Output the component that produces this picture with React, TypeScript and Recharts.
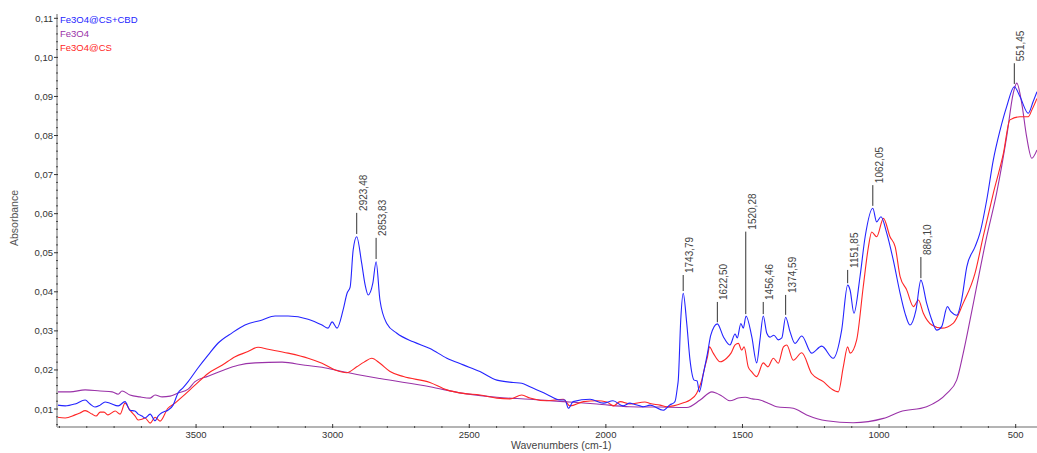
import { LineChart, Line, XAxis, YAxis, ReferenceLine } from "recharts";

const FONT = "'Liberation Sans', Arial, sans-serif";

// [wavenumber, absorbance]
const CBD: [number, number][] = [
  [4008, 0.011], [3979, 0.0108], [3943, 0.0113], [3906, 0.0123], [3888, 0.0113], [3870, 0.0105],
  [3851, 0.011], [3833, 0.0118], [3815, 0.0115], [3785, 0.0108], [3760, 0.0119], [3742, 0.0097],
  [3724, 0.0095], [3712, 0.0087], [3698, 0.0082], [3687, 0.0077], [3668, 0.0087], [3650, 0.007],
  [3639, 0.0082], [3632, 0.0087], [3621, 0.0092], [3603, 0.0097], [3584, 0.011], [3566, 0.0141],
  [3548, 0.0154], [3529, 0.017], [3493, 0.0205], [3456, 0.0238], [3419, 0.0269], [3368, 0.0295],
  [3321, 0.0315], [3258, 0.0328], [3211, 0.0338], [3163, 0.0338], [3090, 0.033], [3039, 0.0315],
  [3017, 0.0307], [3002, 0.0323], [2984, 0.0307], [2962, 0.0353], [2947, 0.0397], [2936, 0.0412],
  [2925, 0.0507], [2912, 0.0541], [2894, 0.0474], [2881, 0.0417], [2870, 0.0392], [2853, 0.0422],
  [2841, 0.0477], [2827, 0.0379], [2802, 0.0319], [2765, 0.0294], [2705, 0.0272], [2644, 0.0255],
  [2582, 0.023], [2522, 0.0213], [2461, 0.0196], [2399, 0.0174], [2339, 0.0168], [2308, 0.0166],
  [2278, 0.0157], [2217, 0.0138], [2168, 0.0123], [2150, 0.0123], [2137, 0.0102], [2120, 0.0119],
  [2058, 0.0125], [2009, 0.0115], [1974, 0.0121], [1937, 0.0108], [1912, 0.0115], [1899, 0.0113],
  [1875, 0.0108], [1863, 0.0106], [1838, 0.011], [1790, 0.0097], [1765, 0.0111], [1753, 0.0115],
  [1747, 0.0119], [1738, 0.0157], [1735, 0.0174], [1726, 0.0328], [1717, 0.0396], [1704, 0.0319],
  [1692, 0.0225], [1677, 0.0174], [1666, 0.0172], [1658, 0.0144], [1643, 0.0191], [1628, 0.0243],
  [1616, 0.0289], [1592, 0.0318], [1570, 0.0285], [1546, 0.0264], [1527, 0.0292], [1519, 0.0282],
  [1506, 0.0319], [1497, 0.0307], [1487, 0.0338], [1466, 0.0285], [1448, 0.0218], [1436, 0.0277],
  [1424, 0.0338], [1411, 0.0294], [1399, 0.0284], [1385, 0.0289], [1369, 0.0277], [1356, 0.0282],
  [1342, 0.0335], [1326, 0.0298], [1308, 0.0268], [1283, 0.0287], [1247, 0.0243], [1210, 0.0261],
  [1168, 0.023], [1137, 0.0302], [1115, 0.0417], [1106, 0.0404], [1092, 0.0345], [1070, 0.0438],
  [1051, 0.0541], [1023, 0.0614], [1009, 0.0579], [993, 0.0592], [972, 0.055], [948, 0.0481],
  [923, 0.0396], [905, 0.0345], [887, 0.0315], [865, 0.0353], [847, 0.043], [826, 0.0371],
  [807, 0.0328], [789, 0.0302], [771, 0.0311], [750, 0.0362], [737, 0.0349], [716, 0.034],
  [698, 0.0379], [679, 0.0464], [649, 0.0515], [631, 0.055], [606, 0.0635], [582, 0.0737],
  [557, 0.0814], [533, 0.0874], [505, 0.0925], [484, 0.0899], [454, 0.0857], [436, 0.0887],
  [422, 0.0912],
];

const FE3O4: [number, number][] = [
  [4008, 0.0144], [3961, 0.0144], [3906, 0.0149], [3851, 0.0146], [3807, 0.0144], [3785, 0.0138],
  [3771, 0.0146], [3742, 0.0136], [3705, 0.0131], [3668, 0.0128], [3650, 0.0136], [3624, 0.0131],
  [3595, 0.0133], [3566, 0.0141], [3529, 0.0151], [3504, 0.017], [3456, 0.0184], [3405, 0.0198],
  [3346, 0.0212], [3284, 0.0218], [3185, 0.022], [3101, 0.0212], [3039, 0.0207], [2966, 0.0196],
  [2827, 0.0178], [2644, 0.0157], [2522, 0.014], [2399, 0.013], [2278, 0.0125], [2156, 0.0119],
  [2033, 0.0113], [1912, 0.0106], [1802, 0.0105], [1704, 0.0104], [1655, 0.0123], [1612, 0.0144],
  [1597, 0.0141], [1575, 0.0133], [1546, 0.0121], [1516, 0.0128], [1490, 0.013], [1464, 0.0126],
  [1436, 0.0123], [1406, 0.0115], [1375, 0.0106], [1314, 0.0102], [1265, 0.0085], [1192, 0.007],
  [1095, 0.0065], [984, 0.0076], [923, 0.0093], [826, 0.0106], [752, 0.014], [716, 0.0174],
  [692, 0.0243], [667, 0.0328], [643, 0.0413], [606, 0.0541], [570, 0.0652], [533, 0.0797],
  [509, 0.0908], [496, 0.0934], [478, 0.0883], [460, 0.0797], [441, 0.0742], [422, 0.0763],
];

const CS: [number, number][] = [
  [4008, 0.0079], [3979, 0.0077], [3943, 0.0085], [3925, 0.009], [3906, 0.0096], [3881, 0.0087],
  [3866, 0.0082], [3851, 0.0092], [3837, 0.0092], [3822, 0.0085], [3796, 0.0095], [3778, 0.0087],
  [3760, 0.0115], [3742, 0.0097], [3723, 0.0082], [3712, 0.0072], [3698, 0.0074], [3687, 0.0077],
  [3668, 0.0064], [3650, 0.0079], [3632, 0.0069], [3603, 0.0102], [3577, 0.0115], [3551, 0.0131],
  [3504, 0.0161], [3456, 0.0191], [3405, 0.0212], [3357, 0.0234], [3310, 0.0247], [3273, 0.0258],
  [3236, 0.0253], [3163, 0.0243], [3090, 0.023], [3039, 0.0217], [2991, 0.02], [2948, 0.0193],
  [2912, 0.0208], [2885, 0.022], [2857, 0.023], [2827, 0.0217], [2790, 0.0196], [2741, 0.0183],
  [2644, 0.0168], [2582, 0.0149], [2522, 0.014], [2461, 0.0136], [2399, 0.0128], [2351, 0.0126],
  [2308, 0.0136], [2278, 0.0128], [2217, 0.0121], [2156, 0.0125], [2131, 0.0108], [2082, 0.0119],
  [2033, 0.0121], [1997, 0.0118], [1985, 0.0113], [1972, 0.0108], [1948, 0.0119], [1912, 0.0113],
  [1857, 0.0118], [1838, 0.0114], [1802, 0.011], [1777, 0.0106], [1753, 0.0108], [1716, 0.0116],
  [1692, 0.0123], [1668, 0.014], [1649, 0.0174], [1637, 0.021], [1628, 0.0234], [1621, 0.0259],
  [1607, 0.0243], [1582, 0.0221], [1558, 0.023], [1542, 0.0243], [1527, 0.0264], [1515, 0.0268],
  [1503, 0.0251], [1494, 0.0259], [1479, 0.0208], [1466, 0.0195], [1448, 0.0183], [1424, 0.0218],
  [1407, 0.0208], [1387, 0.023], [1369, 0.0217], [1350, 0.0259], [1338, 0.0264], [1314, 0.0225],
  [1283, 0.0244], [1247, 0.0191], [1204, 0.017], [1173, 0.0151], [1149, 0.0144], [1131, 0.0208],
  [1115, 0.0259], [1106, 0.0243], [1082, 0.0277], [1058, 0.0413], [1039, 0.0515], [1027, 0.0553],
  [1009, 0.0541], [984, 0.0588], [960, 0.0541], [941, 0.0515], [923, 0.0439], [899, 0.0405],
  [874, 0.0362], [856, 0.0379], [838, 0.0345], [807, 0.0315], [771, 0.0307], [728, 0.032],
  [692, 0.0371], [649, 0.0447], [619, 0.0541], [582, 0.0652], [545, 0.0754], [521, 0.084],
  [484, 0.0848], [454, 0.0848], [441, 0.0865], [422, 0.0895],
];

// peak picks: label, position, marker tip and marker top
const PEAKS = [
  { label: "2923,48", wn: 2912, tip: 0.0548, top: 0.0602 },
  { label: "2853,83", wn: 2841, tip: 0.0484, top: 0.0538 },
  { label: "1743,79", wn: 1717, tip: 0.0402, top: 0.0443 },
  { label: "1622,50", wn: 1592, tip: 0.0322, top: 0.0374 },
  { label: "1520,28", wn: 1488, tip: 0.0343, top: 0.0554 },
  { label: "1456,46", wn: 1424, tip: 0.0343, top: 0.0374 },
  { label: "1374,59", wn: 1342, tip: 0.0341, top: 0.0392 },
  { label: "1151,85", wn: 1115, tip: 0.0422, top: 0.0456 },
  { label: "1062,05", wn: 1023, tip: 0.062, top: 0.0673 },
  { label: "886,10", wn: 847, tip: 0.0435, top: 0.0489 },
  { label: "551,45", wn: 505, tip: 0.0932, top: 0.0985 },
];

const SERIES = [
  { name: "Fe3O4@CS+CBD", color: "#2424ff" },
  { name: "Fe3O4", color: "#9a32a8" },
  { name: "Fe3O4@CS", color: "#ff2626" },
];

const X_LABELS = [500, 1000, 1500, 2000, 2500, 3000, 3500];
const Y_LABELS = [0.01, 0.02, 0.03, 0.04, 0.05, 0.06, 0.07, 0.08, 0.09, 0.1, 0.11];

const X_TICKS: number[] = [];
for (let w = 500; w <= 4000; w += 100) X_TICKS.push(w);
const Y_TICKS: number[] = [];
for (let k = 3; k <= 55; k++) Y_TICKS.push(Number((k * 0.002).toFixed(3)));

const toRows = (pts: [number, number][]) => pts.map(([wn, a]) => ({ wn, a }));

function XTick(props: any) {
  const { x, y, payload } = props;
  const major = X_LABELS.includes(payload.value);
  return (
    <g>
      {major ? (
        <line x1={x} x2={x} y1={y - 3} y2={y + 1} stroke="#333" strokeWidth={1} />
      ) : (
        <line x1={x} x2={x} y1={y - 1} y2={y + 1} stroke="#444" strokeWidth={1} />
      )}
      {major && (
        <text x={x} y={y + 11} textAnchor="middle" fontSize={9.5} fill="#333" fontFamily={FONT}>
          {payload.value}
        </text>
      )}
    </g>
  );
}

function YTick(props: any) {
  const { x, y, payload } = props;
  const v = payload.value;
  const major = Y_LABELS.some((l) => Math.abs(l - v) < 1e-6);
  return (
    <g>
      {major ? (
        <line x1={x - 3} x2={x + 1} y1={y} y2={y} stroke="#333" strokeWidth={1} />
      ) : (
        <line x1={x - 1} x2={x + 1} y1={y} y2={y} stroke="#444" strokeWidth={1} />
      )}
      {major && (
        <text x={x - 4} y={y + 3.5} textAnchor="end" fontSize={9.5} fill="#333" fontFamily={FONT}>
          {v.toFixed(2).replace(".", ",")}
        </text>
      )}
    </g>
  );
}

const peakLabel = (text: string) => (props: any) => {
  const vb = props.viewBox || {};
  const x = (vb.x ?? 0) + 10;
  const y = (vb.y ?? 0) - 2;
  return (
    <text x={x} y={y} transform={`rotate(-90 ${x} ${y})`} fontSize={10} fill="#444" fontFamily={FONT}>
      {text}
    </text>
  );
};

export default function App() {
  const data = [toRows(CBD), toRows(FE3O4), toRows(CS)];
  return (
    <div style={{ position: "absolute", left: 0, top: 0, width: 1037, height: 453, background: "#fff" }}>
      <LineChart width={1037} height={453} margin={{ top: 14, right: 0, bottom: 0, left: 0 }}>
        <XAxis
          type="number"
          dataKey="wn"
          domain={[422, 4009]}
          reversed
          allowDataOverflow
          ticks={X_TICKS}
          interval={0}
          tick={<XTick />}
          tickLine={false}
          tickSize={0}
          tickMargin={0}
          axisLine={{ stroke: "#b4b4b4", strokeWidth: 2 }}
          height={26}
        />
        <YAxis
          type="number"
          domain={[0.0054, 0.1111]}
          allowDataOverflow
          ticks={Y_TICKS}
          interval={0}
          tick={<YTick />}
          tickLine={false}
          tickSize={0}
          tickMargin={0}
          axisLine={{ stroke: "#b4b4b4", strokeWidth: 2 }}
          width={57}
        />
        {[1, 2, 0].map((i) => (
          <Line
            key={SERIES[i].name}
            data={data[i]}
            dataKey="a"
            name={SERIES[i].name}
            type="monotone"
            stroke={SERIES[i].color}
            strokeWidth={1.1}
            dot={false}
            isAnimationActive={false}
          />
        ))}
        {PEAKS.map((p) => (
          <ReferenceLine
            key={p.label}
            segment={[{ x: p.wn, y: p.tip }, { x: p.wn, y: p.top }]}
            stroke="#333"
            strokeWidth={1}
            label={peakLabel(p.label)}
          />
        ))}
      </LineChart>
      <svg width={1037} height={453} style={{ position: "absolute", left: 0, top: 0, pointerEvents: "none" }}>
        {SERIES.map((s, i) => (
          <text key={s.name} x={60} y={23 + i * 14} fontSize={9.5} fill={s.color} fontFamily={FONT}>
            {s.name}
          </text>
        ))}
        <text
          x={18}
          y={218}
          transform="rotate(-90 18 218)"
          textAnchor="middle"
          fontSize={10.5}
          fill="#555"
          fontFamily={FONT}
        >
          Absorbance
        </text>
        <text x={511} y={449} fontSize={10.5} fill="#444" fontFamily={FONT}>
          Wavenumbers (cm-1)
        </text>
      </svg>
    </div>
  );
}
